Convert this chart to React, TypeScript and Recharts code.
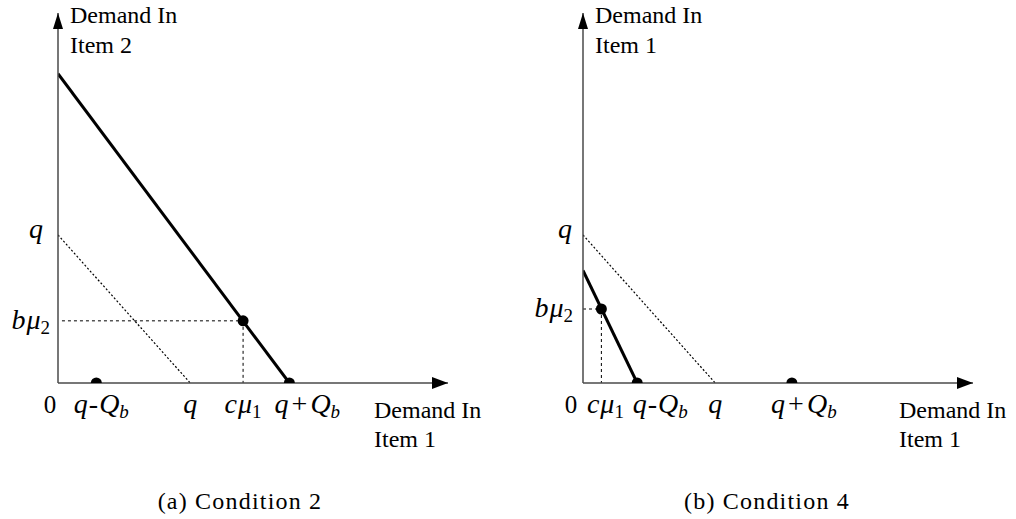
import React from "react";
import {
  ComposedChart,
  Line,
  Scatter,
  XAxis,
  YAxis,
  ReferenceDot,
} from "recharts";

// axis extents (same for both panels)
const xDomain = [0, 29.5];
const yDomain = [0, 25];

// (a) Condition 2
const xTicksA = [0, 2.9, 10, 14.0, 17.5];
const xLabelsA = ["0", "q-Qb", "q", "cμ1", "q+Qb"];
const yTicksA = [10, 4.2];
const yLabelsA = ["q", "bμ2"];
const boundaryA = [
  { x: 0, y: 20.9 },
  { x: 17.5, y: 0 },
];
const qLineA = [
  { x: 0, y: 10 },
  { x: 10, y: 0 },
];
const guideHA = [
  { x: 0.3, y: 4.2 },
  { x: 14.0, y: 4.2 },
];
const guideVA = [
  { x: 14.0, y: 4.2 },
  { x: 14.0, y: 0 },
];
const dotsA = [
  { x: 2.9, y: 0 },
  { x: 14.0, y: 4.2 },
  { x: 17.5, y: 0 },
];

// (b) Condition 4
const xTicksB = [0, 1.39, 4.1, 10, 15.8];
const xLabelsB = ["0", "cμ1", "q-Qb", "q", "q+Qb"];
const yTicksB = [10, 5.0];
const yLabelsB = ["q", "bμ2"];
const boundaryB = [
  { x: 0, y: 7.6 },
  { x: 4.1, y: 0 },
];
const qLineB = [
  { x: 0, y: 10 },
  { x: 10, y: 0 },
];
const guideHB = [
  { x: 0, y: 5.0 },
  { x: 1.39, y: 5.0 },
];
const guideVB = [
  { x: 1.39, y: 5.0 },
  { x: 1.39, y: 0 },
];
const dotsB = [
  { x: 1.39, y: 5.0 },
  { x: 4.1, y: 0 },
  { x: 15.8, y: 0 },
];

const FONT = "Liberation Serif";
const AXIS = "#4a4a4a";
const txt = { fontFamily: FONT };

// math-ish tick text: italic letters, upright digits / operators, subscripts
const MathText = ({ id }: { id: string }) => {
  const it = { fontStyle: "italic" as const };
  switch (id) {
    case "q":
      return <tspan {...it}>q</tspan>;
    case "q-Qb":
      return (
        <>
          <tspan {...it}>q</tspan>
          <tspan dx={1}>-</tspan>
          <tspan {...it} dx={1}>Q</tspan>
          <tspan {...it} fontSize={19} dy={5}>b</tspan>
        </>
      );
    case "q+Qb":
      return (
        <>
          <tspan {...it}>q</tspan>
          <tspan dx={3}>+</tspan>
          <tspan {...it} dx={3}>Q</tspan>
          <tspan {...it} fontSize={19} dy={5}>b</tspan>
        </>
      );
    case "cμ1":
      return (
        <>
          <tspan {...it}>c</tspan>
          <tspan {...it} dx={1}>μ</tspan>
          <tspan fontSize={19} dy={5}>1</tspan>
        </>
      );
    case "bμ2":
      return (
        <>
          <tspan {...it}>b</tspan>
          <tspan {...it} dx={1}>μ</tspan>
          <tspan fontSize={19} dy={5}>2</tspan>
        </>
      );
    default:
      return <tspan fontSize={25}>{id}</tspan>;
  }
};

type Pt = { x: number; y: number };

type PanelProps = {
  width: number;
  xTicks: number[];
  xLabels: string[];
  xShift: number[];
  yTicks: number[];
  yLabels: string[];
  yShift: number[];
  yTitle: string[];
  boundary: Pt[];
  qLine: Pt[];
  guideH: Pt[];
  guideV: Pt[];
  dots: Pt[];
};

const Panel = ({
  width,
  xTicks,
  xLabels,
  xShift,
  yTicks,
  yLabels,
  yShift,
  yTitle,
  boundary,
  qLine,
  guideH,
  guideV,
  dots,
}: PanelProps) => {
  const XTick = (p: any) => {
    const i = xTicks.indexOf(p.payload.value);
    return (
      <text
        x={p.x + (xShift[i] || 0)}
        y={p.y + 30}
        textAnchor="middle"
        style={txt}
        fontSize={28}
        fill="#000"
      >
        <MathText id={xLabels[i]} />
      </text>
    );
  };

  const YTick = (p: any) => {
    const i = yTicks.indexOf(p.payload.value);
    const lab = yLabels[i];
    return (
      <text
        x={p.x + (yShift[i] || 0)}
        y={p.y + (lab === "q" ? 3 : 8)}
        textAnchor="end"
        style={txt}
        fontSize={28}
        fill="#000"
      >
        <MathText id={lab} />
      </text>
    );
  };

  // arrowhead + title at the end of the horizontal axis
  const XEnd = (p: any) => (
    <g>
      <polygon
        points={`${p.cx},${p.cy} ${p.cx - 16},${p.cy - 6} ${p.cx - 16},${p.cy + 6}`}
        fill="#000"
      />
      <text x={p.cx - 74} y={p.cy + 35} style={txt} fontSize={24} fill="#000">
        <tspan>Demand In</tspan>
        <tspan x={p.cx - 74} dy={29}>Item 1</tspan>
      </text>
    </g>
  );

  // arrowhead + title at the top of the vertical axis
  const YEnd = (p: any) => (
    <g>
      <polygon
        points={`${p.cx},${p.cy} ${p.cx - 5},${p.cy + 16} ${p.cx + 5},${p.cy + 16}`}
        fill="#000"
      />
      <text x={p.cx + 12} y={p.cy + 10} style={txt} fontSize={24} fill="#000">
        <tspan>{yTitle[0]}</tspan>
        <tspan x={p.cx + 12} dy={30}>{yTitle[1]}</tspan>
      </text>
    </g>
  );

  return (
    <ComposedChart
      width={width}
      height={465}
      margin={{ top: 13, right: width - 448, bottom: 0, left: 0 }}
    >
      <XAxis
        type="number"
        dataKey="x"
        domain={xDomain}
        ticks={xTicks}
        tick={XTick}
        tickLine={false}
        tickSize={0}
        tickMargin={0}
        height={82}
        interval={0}
        allowDataOverflow
        axisLine={{ stroke: AXIS, strokeWidth: 1.5 }}
      />
      <YAxis
        type="number"
        dataKey="y"
        domain={yDomain}
        ticks={yTicks}
        tick={YTick}
        tickLine={false}
        tickSize={0}
        tickMargin={0}
        width={58}
        interval={0}
        allowDataOverflow
        axisLine={{ stroke: AXIS, strokeWidth: 1.5 }}
      />
      <Line
        data={qLine}
        dataKey="y"
        stroke="#000"
        strokeWidth={1.2}
        strokeDasharray="2 2"
        dot={false}
        activeDot={false}
        isAnimationActive={false}
      />
      <Line
        data={guideH}
        dataKey="y"
        stroke="#000"
        strokeWidth={1}
        strokeDasharray="3 3"
        dot={false}
        activeDot={false}
        isAnimationActive={false}
      />
      <Line
        data={guideV}
        dataKey="y"
        stroke="#000"
        strokeWidth={1}
        strokeDasharray="3 3"
        dot={false}
        activeDot={false}
        isAnimationActive={false}
      />
      <Line
        data={boundary}
        dataKey="y"
        stroke="#000"
        strokeWidth={3}
        dot={false}
        activeDot={false}
        isAnimationActive={false}
      />
      <Scatter
        data={dots}
        dataKey="y"
        fill="#000"
        isAnimationActive={false}
        shape={(p: any) => <circle cx={p.cx} cy={p.cy} r={5.5} fill="#000" />}
      />
      <ReferenceDot x={xDomain[1]} y={0} ifOverflow="visible" shape={XEnd} />
      <ReferenceDot x={0} y={yDomain[1]} ifOverflow="visible" shape={YEnd} />
    </ComposedChart>
  );
};

export default function App() {
  return (
    <div
      style={{
        position: "absolute",
        left: 0,
        top: 0,
        width: 1016,
        height: 519,
        background: "#fff",
        overflow: "hidden",
      }}
    >
      <div style={{ position: "absolute", left: 0, top: 0 }}>
        <Panel
          width={500}
          xTicks={xTicksA}
          xLabels={xLabelsA}
          xShift={[-8, 5, 0, 0, 18]}
          yTicks={yTicksA}
          yLabels={yLabelsA}
          yShift={[-15, -8]}
          yTitle={["Demand In", "Item 2"]}
          boundary={boundaryA}
          qLine={qLineA}
          guideH={guideHA}
          guideV={guideVA}
          dots={dotsA}
        />
      </div>
      <div style={{ position: "absolute", left: 525, top: 0 }}>
        <Panel
          width={491}
          xTicks={xTicksB}
          xLabels={xLabelsB}
          xShift={[-12, 4, 23, 0, 12]}
          yTicks={yTicksB}
          yLabels={yLabelsB}
          yShift={[-11, -10]}
          yTitle={["Demand In", "Item 1"]}
          boundary={boundaryB}
          qLine={qLineB}
          guideH={guideHB}
          guideV={guideVB}
          dots={dotsB}
        />
      </div>
      <svg
        width={1016}
        height={54}
        style={{ position: "absolute", left: 0, top: 465 }}
      >
        <text x={240} y={44} textAnchor="middle" style={txt} fontSize={24} letterSpacing={1.2} fill="#000">
          (a) Condition 2
        </text>
        <text x={767} y={44} textAnchor="middle" style={txt} fontSize={24} letterSpacing={1.2} fill="#000">
          (b) Condition 4
        </text>
      </svg>
    </div>
  );
}
